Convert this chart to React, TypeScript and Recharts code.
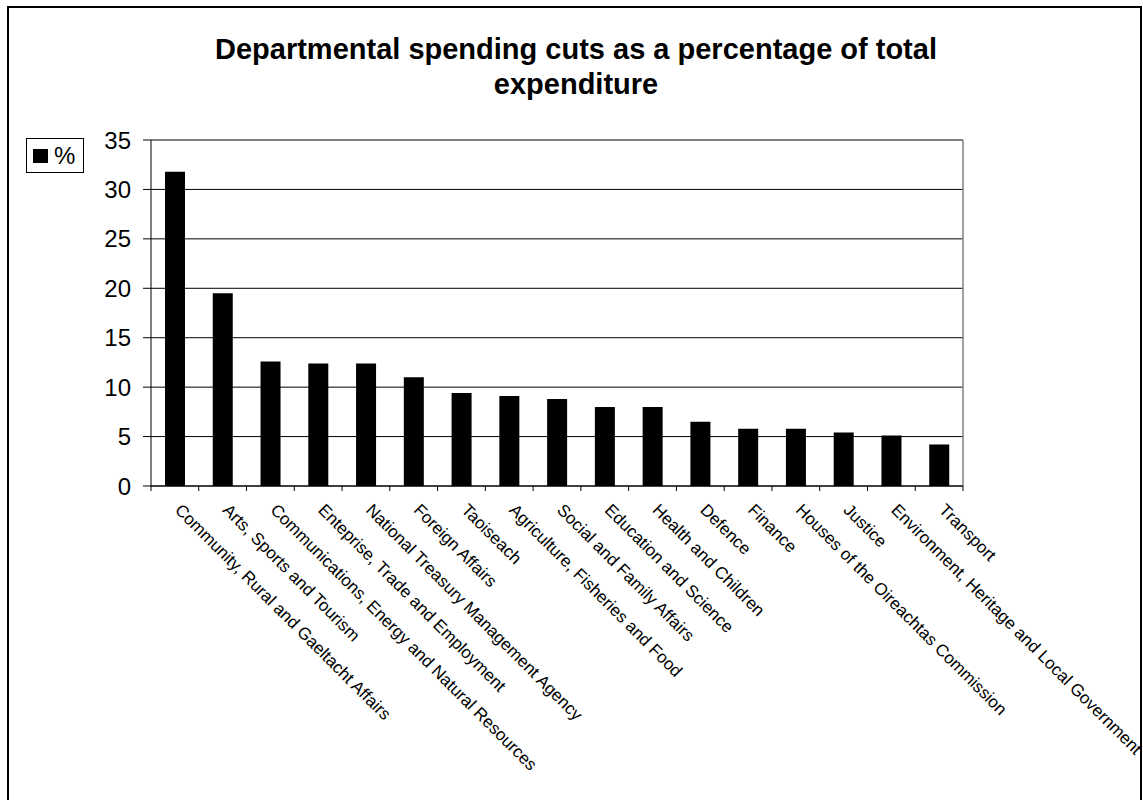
import React from 'react';
import { BarChart, Bar, XAxis, YAxis, CartesianGrid, Legend } from 'recharts';

const categories = [
  'Community, Rural and Gaeltacht Affairs',
  'Arts, Sports and Tourism',
  'Communications, Energy and Natural Resources',
  'Enteprise, Trade and Employment',
  'National Treasury Management Agency',
  'Foreign Affairs',
  'Taoiseach',
  'Agriculture, Fisheries and Food',
  'Social and Family Affairs',
  'Education and Science',
  'Health and Children',
  'Defence',
  'Finance',
  'Houses of the Oireachtas Commission',
  'Justice',
  'Environment, Heritage and Local Government',
  'Transport',
];

const values = [31.8, 19.5, 12.6, 12.4, 12.4, 11.0, 9.4, 9.1, 8.8, 8.0, 8.0, 6.5, 5.8, 5.8, 5.4, 5.1, 4.2];

const yTicks = [0, 5, 10, 15, 20, 25, 30, 35];
const seriesName = '%';
const titleLines = ['Departmental spending cuts as a percentage of total', 'expenditure'];

const data = categories.map((name, i) => ({ name, value: values[i] }));

const FONT = '"Liberation Sans", Arial, sans-serif';
const W = 1143;
const H = 800;
const MARGIN = { top: 140, right: 180, bottom: 14, left: 0 };
const Y_AXIS_W = 151;
const X_AXIS_H = 300;
const PLOT_W = W - MARGIN.left - MARGIN.right - Y_AXIS_W;

function XTick(props: any) {
  const { x, y, payload, index } = props;
  const bw = PLOT_W / categories.length;
  const last = index === categories.length - 1;
  return (
    <g>
      <line x1={x - bw / 2} x2={x - bw / 2} y1={y} y2={y + 5} stroke="#000" strokeWidth={1} />
      {last && <line x1={x + bw / 2} x2={x + bw / 2} y1={y} y2={y + 5} stroke="#000" strokeWidth={1} />}
      <text
        x={0}
        y={0}
        transform={`translate(${x - 1},${y + 25}) rotate(45)`}
        fontSize={17}
        fontFamily={FONT}
        fill="#000"
        textAnchor="start"
      >
        {payload.value}
      </text>
    </g>
  );
}

function LegendBox() {
  return (
    <div
      style={{
        border: '1px solid #000',
        background: '#fff',
        width: 58,
        height: 35,
        boxSizing: 'border-box',
        display: 'flex',
        alignItems: 'center',
        fontFamily: FONT,
        fontSize: 24,
        color: '#000',
      }}
    >
      <span style={{ display: 'inline-block', width: 15, height: 14, background: '#000', marginLeft: 6, marginRight: 6 }} />
      <span style={{ lineHeight: 1 }}>{seriesName}</span>
    </div>
  );
}

export default function App() {
  return (
    <div style={{ position: 'relative', width: W, height: H, background: '#fff' }}>
      <style>{'body{margin:0;background:#fff}'}</style>
      <BarChart width={W} height={H} data={data} margin={MARGIN}>
        <CartesianGrid vertical={false} stroke="#000" strokeWidth={1} />
        <CartesianGrid
          stroke="#808080"
          strokeWidth={1.5}
          horizontalCoordinatesGenerator={({ offset }: any) => [offset.top]}
          verticalCoordinatesGenerator={({ offset }: any) => [offset.left + offset.width]}
        />
        <XAxis
          dataKey="name"
          interval={0}
          height={X_AXIS_H}
          tickLine={false}
          tickSize={0}
          tickMargin={0}
          axisLine={{ stroke: '#000', strokeWidth: 1 }}
          tick={<XTick />}
        />
        <YAxis
          width={Y_AXIS_W}
          domain={[0, 35]}
          ticks={yTicks}
          interval={0}
          tickSize={8}
          tickMargin={12}
          axisLine={{ stroke: '#000', strokeWidth: 1 }}
          tickLine={{ stroke: '#000', strokeWidth: 1 }}
          tick={{ fontSize: 24, fill: '#000', fontFamily: FONT }}
        />
        <Legend
          layout="horizontal"
          verticalAlign="middle"
          align="center"
          wrapperStyle={{ position: 'absolute', left: 26, top: 138, width: 'auto', height: 'auto' }}
          content={() => <LegendBox />}
        />
        <Bar dataKey="value" name={seriesName} fill="#000" barSize={20} isAnimationActive={false} />
      </BarChart>
      <svg
        width={W}
        height={H}
        style={{ position: 'absolute', left: 0, top: 0, pointerEvents: 'none' }}
      >
        <line x1={8} y1={7} x2={8} y2={800} stroke="#000" strokeWidth={2} />
        <line x1={7} y1={7} x2={1142} y2={7} stroke="#000" strokeWidth={2} />
        <line x1={1141} y1={6} x2={1141} y2={800} stroke="#000" strokeWidth={2} />
        <text x={576} y={59} textAnchor="middle" fontFamily={FONT} fontWeight="bold" fontSize={29} fill="#000">
          {titleLines[0]}
        </text>
        <text x={576} y={94} textAnchor="middle" fontFamily={FONT} fontWeight="bold" fontSize={29} fill="#000">
          {titleLines[1]}
        </text>
      </svg>
    </div>
  );
}
